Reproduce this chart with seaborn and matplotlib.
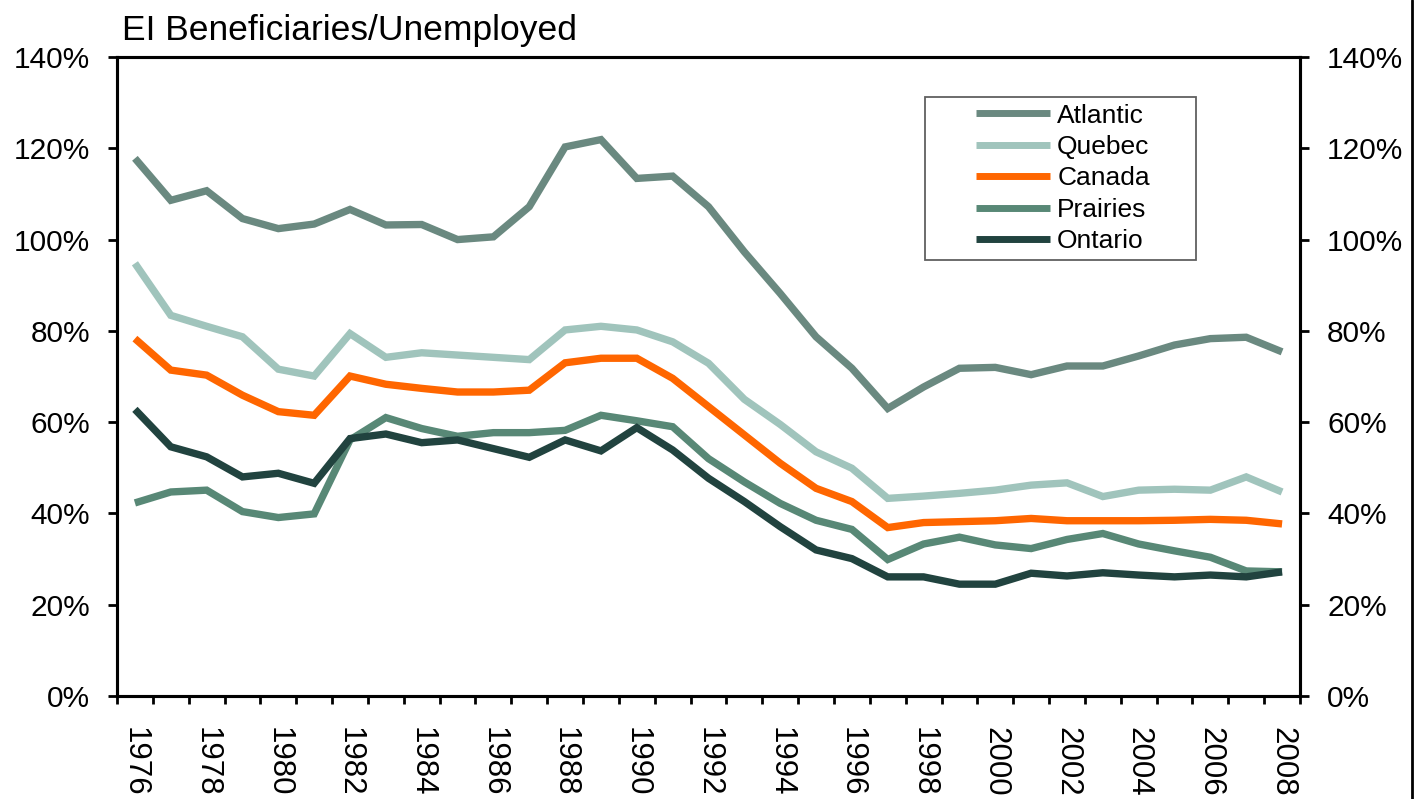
import matplotlib
matplotlib.use("Agg")
import matplotlib.pyplot as plt
from matplotlib.lines import Line2D
from matplotlib.patches import Rectangle
from matplotlib.ticker import PercentFormatter
import pandas as pd
import seaborn as sns

years = list(range(1976, 2009))
regions = ["Atlantic", "Quebec", "Canada", "Prairies", "Ontario"]

atlantic = [117.8, 108.6, 110.7, 104.6, 102.4, 103.4, 106.6, 103.2, 103.3, 100.0, 100.6, 107.2,
            120.3, 121.9, 113.4, 113.9, 107.2, 97.3, 88.2, 78.7, 71.8, 63.0,
            67.7, 71.8, 72.0, 70.4, 72.3, 72.3, 74.5, 76.9, 78.3, 78.6, 75.4]
quebec = [94.8, 83.4, 81.0, 78.7, 71.6, 70.1, 79.4, 74.2, 75.2, 74.7, 74.2, 73.7,
          80.2, 81.0, 80.2, 77.6, 72.9, 65.0, 59.5, 53.5, 49.9, 43.3,
          43.8, 44.4, 45.1, 46.2, 46.7, 43.7, 45.1, 45.3, 45.1, 48.0, 44.7]
canada = [78.3, 71.4, 70.3, 65.9, 62.3, 61.5, 70.1, 68.3, 67.4, 66.6, 66.6, 67.0,
          73.0, 74.0, 74.0, 69.6, 63.4, 57.2, 51.0, 45.5, 42.6, 36.9,
          38.0, 38.2, 38.4, 38.9, 38.4, 38.4, 38.4, 38.5, 38.7, 38.5, 37.7]
prairies = [42.3, 44.7, 45.1, 40.4, 39.1, 39.9, 56.1, 61.0, 58.6, 56.9, 57.7, 57.7,
            58.2, 61.5, 60.3, 59.0, 52.0, 46.9, 42.2, 38.5, 36.5, 29.9,
            33.3, 34.8, 33.1, 32.3, 34.3, 35.6, 33.3, 31.8, 30.4, 27.4, 27.2]
ontario = [62.8, 54.6, 52.4, 48.0, 48.8, 46.6, 56.4, 57.4, 55.5, 56.1, 54.2, 52.3,
           56.1, 53.7, 58.8, 53.9, 47.7, 42.6, 37.1, 32.0, 30.1, 26.1,
           26.1, 24.5, 24.5, 26.9, 26.3, 27.0, 26.5, 26.1, 26.5, 26.1, 27.2]

colors = ["#6A8980", "#A0C4BC", "#FF6600", "#588876", "#21433F"]

df = pd.DataFrame({"Atlantic": atlantic, "Quebec": quebec, "Canada": canada,
                   "Prairies": prairies, "Ontario": ontario}, index=years)
df.index.name = "year"
long_df = df.reset_index().melt(id_vars="year", var_name="region", value_name="share")

sns.set_style("white")
plt.rcParams["font.family"] = ["Liberation Sans", "DejaVu Sans"]
plt.rcParams["text.color"] = "black"
plt.rcParams["xtick.color"] = "black"
plt.rcParams["ytick.color"] = "black"
plt.rcParams["axes.labelcolor"] = "black"

fig = plt.figure(figsize=(14.14, 7.99), dpi=100)
ax = fig.add_axes([117 / 1414, 1 - 696 / 799, (1300 - 117) / 1414, (696 - 57) / 799])

sns.lineplot(data=long_df, x="year", y="share", hue="region", hue_order=regions,
             palette=colors, linewidth=5.3, ax=ax, legend=True)
for line in ax.get_lines():
    line.set_solid_capstyle("butt")
    line.set_solid_joinstyle("miter")

leg = ax.get_legend()
handles = leg.legend_handles
labels = [t.get_text() for t in leg.get_texts()]
leg.remove()
for h, c in zip(handles, colors):
    h.set_linewidth(5)
    h.set_color(c)
    h.set_solid_capstyle("butt")
ax.legend(handles, labels, loc="upper left", bbox_to_anchor=(0.726, 0.927),
          frameon=False, fontsize=19, handlelength=2.8, handletextpad=0.28,
          labelspacing=0.28, borderpad=0, borderaxespad=0)
ax.add_patch(Rectangle((0.683, 0.682), 0.229, 0.255, transform=ax.transAxes,
                       fill=False, edgecolor="#606060", linewidth=1.3, zorder=5))

ax.set_xlim(1975.5, 2008.5)
ax.set_ylim(0, 140)
ax.set_xlabel("")
ax.set_ylabel("")

ax.set_xticks([y + 0.5 for y in range(1975, 2009)])
ax.set_xticklabels([])
ax.set_xticks(years[::2], minor=True)
ax.set_xticklabels([str(y) for y in years[::2]], minor=True, rotation=270, fontsize=22.5)
ax.tick_params(axis="x", which="major", direction="out", length=6, width=2, bottom=True)
ax.tick_params(axis="x", which="minor", length=0, pad=22, bottom=True)

yticks = list(range(0, 141, 20))
ax.set_yticks(yticks)
ax.yaxis.set_major_formatter(PercentFormatter(decimals=0))
ax.tick_params(axis="y", direction="out", length=6.5, width=2, labelsize=21.5, pad=13, left=True)

ax2 = ax.twinx()
ax2.set_ylim(0, 140)
ax2.set_yticks(yticks)
ax2.yaxis.set_major_formatter(PercentFormatter(decimals=0))
ax2.tick_params(axis="y", direction="out", length=6.5, width=2, labelsize=21.5, pad=13, right=True)

for a in (ax, ax2):
    for s in a.spines.values():
        s.set_visible(True)
        s.set_color("black")
        s.set_linewidth(2.2)

fig.text(122 / 1414, 1 - 40 / 799, "EI Beneficiaries/Unemployed", fontsize=25.5,
         ha="left", va="baseline")
fig.add_artist(Line2D([0.9985, 0.9985], [0, 1], transform=fig.transFigure,
                      color="black", linewidth=2))

fig.savefig("out.png", dpi=100)
